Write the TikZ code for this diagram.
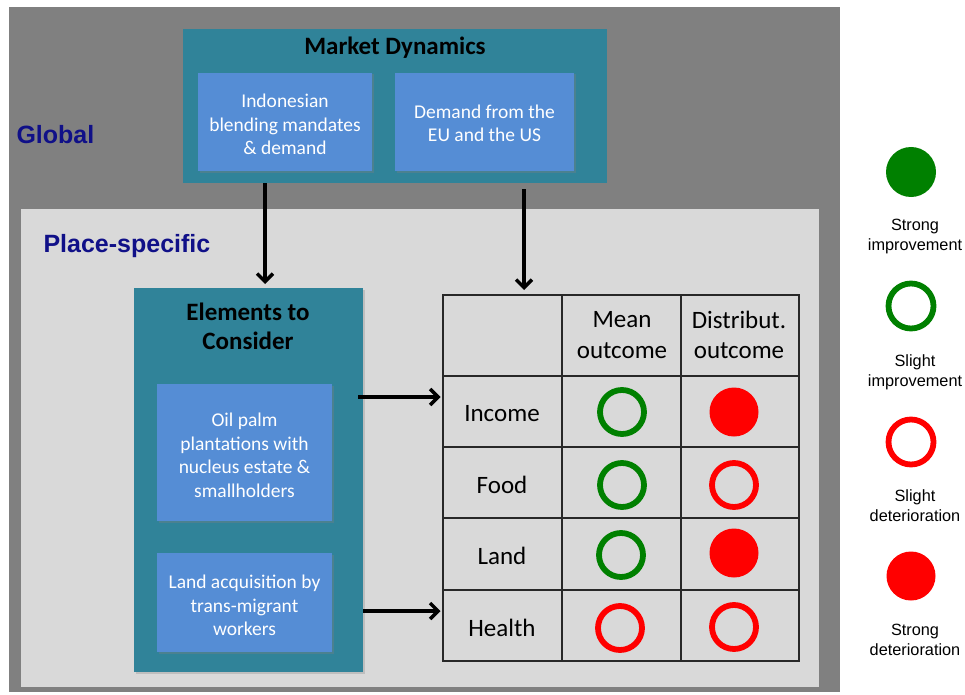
\documentclass[tikz,border=0pt]{standalone}
\usepackage{fontspec}
\setmainfont{Carlito}
\newfontfamily\arialf{Liberation Sans}
\usetikzlibrary{arrows.meta,shadows}
\definecolor{outergray}{RGB}{128,128,128}
\definecolor{panelgray}{RGB}{217,217,217}
\definecolor{tealbox}{RGB}{48,131,153}
\definecolor{bluebox}{RGB}{85,141,213}
\definecolor{navytxt}{RGB}{16,16,136}
\definecolor{goodgreen}{RGB}{0,128,0}
\definecolor{badred}{RGB}{255,0,0}
\definecolor{gridline}{RGB}{40,40,40}
\begin{document}
\begin{tikzpicture}[x=1pt,y=-1pt,
  region/.style={rectangle,inner sep=0pt,outer sep=0pt},
  tealpanel/.style={region,fill=tealbox,drop shadow={shadow xshift=1.5pt,shadow yshift=-1.5pt,opacity=0.3}},
  bluepanel/.style={region,fill=bluebox,drop shadow={shadow xshift=1.5pt,shadow yshift=-1.5pt,opacity=0.35}},
  boxtext/.style={font=\fontsize{19.5}{23.5}\selectfont,text=white,align=center},
  titletext/.style={font=\fontsize{25}{29.5}\selectfont\bfseries,align=center,text=black},
  celltext/.style={font=\fontsize{25}{30.5}\selectfont,align=center,text=black},
  leveltext/.style={font=\arialf\bfseries\fontsize{25}{28}\selectfont,text=navytxt,anchor=west},
  legtext/.style={font=\arialf\fontsize{16.3}{20}\selectfont,align=center,text=black},
  ringgreen/.style={circle,draw=goodgreen,line width=5.8pt,minimum size=44pt,inner sep=0pt},
  ringred/.style={circle,draw=badred,line width=5.8pt,minimum size=44pt,inner sep=0pt},
  dotgreen/.style={circle,fill=goodgreen,minimum size=50pt,inner sep=0pt},
  dotred/.style={circle,fill=badred,minimum size=49pt,inner sep=0pt},
  flow/.style={line width=3.6pt,-{Straight Barb[length=8pt,width=16pt,line width=3.4pt]}},
  gridstroke/.style={draw=gridline,line width=1.3pt}
]
\useasboundingbox (0,0) rectangle (965,695);
\fill[white] (0,0) rectangle (965,695);

% regions
\node[region,fill=outergray,minimum width=831pt,minimum height=685pt] (global) at (424.5,349.5) {};
\node[region,fill=panelgray,minimum width=798pt,minimum height=478pt] (place) at (420,448) {};
\node[leveltext] (globallbl) at (13,135) {Global};
\node[leveltext] (placelbl) at (40,246) {Place-specific};

% market dynamics
\node[tealpanel,minimum width=424pt,minimum height=154pt] (md) at (395,106) {};
\node[titletext] (mdtitle) at (395,48) {Market Dynamics};
\node[bluepanel,minimum width=174pt,minimum height=98pt] (indo) at (285,122) {};
\node[boxtext] (indotxt) at (285,124.5) {Indonesian\\blending mandates\\\& demand};
\node[bluepanel,minimum width=179pt,minimum height=98pt] (eu) at (484.5,122) {};
\node[boxtext] (eutxt) at (484.5,123.5) {Demand from the\\EU and the US};

% elements
\node[tealpanel,minimum width=229pt,minimum height=384pt] (elem) at (248.5,480) {};
\node[titletext] (elemtitle) at (248,326.5) {Elements to\\Consider};
\node[bluepanel,minimum width=175pt,minimum height=137pt] (oil) at (244.5,452.5) {};
\node[boxtext] (oiltxt) at (244.5,455.5) {Oil palm\\plantations with\\nucleus estate \&\\smallholders};
\node[bluepanel,minimum width=175pt,minimum height=99pt] (landacq) at (244.5,602.5) {};
\node[boxtext] (landacqtxt) at (244.5,605.5) {Land acquisition by\\trans-migrant\\workers};

% table
\node[region,gridstroke,minimum width=356pt,minimum height=366pt] (tbl) at (621,478) {};
\draw[gridstroke] (562,295) -- (562,661);
\draw[gridstroke] (681,295) -- (681,661);
\draw[gridstroke] (443,376) -- (799,376);
\draw[gridstroke] (443,447) -- (799,447);
\draw[gridstroke] (443,518) -- (799,518);
\draw[gridstroke] (443,590) -- (799,590);

\node[celltext] (hmean) at (622,335) {Mean\\outcome};
\node[celltext] (hdist) at (739,335) {Distribut.\\outcome};
\node[celltext] (rinc) at (502,414) {Income};
\node[celltext] (rfood) at (502,485) {Food};
\node[celltext] (rland) at (502,556) {Land};
\node[celltext] (rhealth) at (502,628) {Health};

\node[ringgreen] (c11) at (622,412) {};
\node[dotred] (c12) at (734,412) {};
\node[ringgreen] (c21) at (622,485) {};
\node[ringred] (c22) at (734,485) {};
\node[ringgreen] (c31) at (621,555) {};
\node[dotred] (c32) at (734,553) {};
\node[ringred] (c41) at (620,628) {};
\node[ringred] (c42) at (734,627) {};

% arrows
\coordinate (ax1) at (265,0);
\coordinate (ax2) at (524,0);
\coordinate (ay1) at (0,397);
\coordinate (ay2) at (0,611);
\draw[flow,shorten >=4pt] (md.south -| ax1) -- (elem.north -| ax1);
\draw[flow,shorten <=6pt,shorten >=5pt] (md.south -| ax2) -- (tbl.north -| ax2);
\draw[flow,shorten <=-5pt,shorten >=2.5pt] (elem.east |- ay1) -- (tbl.west |- ay1);
\draw[flow,shorten >=2.5pt] (elem.east |- ay2) -- (tbl.west |- ay2);

% legend
\node[dotgreen] (lg1) at (911,172) {};
\node[legtext] (lt1) at (915,236) {Strong\\improvement};
\node[ringgreen,minimum size=45pt] (lg2) at (911,306) {};
\node[legtext] (lt2) at (915,372) {Slight\\improvement};
\node[ringred,minimum size=45pt] (lg3) at (911,442) {};
\node[legtext] (lt3) at (915,506) {Slight\\deterioration};
\node[dotred] (lg4) at (911,576) {};
\node[legtext] (lt4) at (915,640) {Strong\\deterioration};
\end{tikzpicture}
\end{document}
